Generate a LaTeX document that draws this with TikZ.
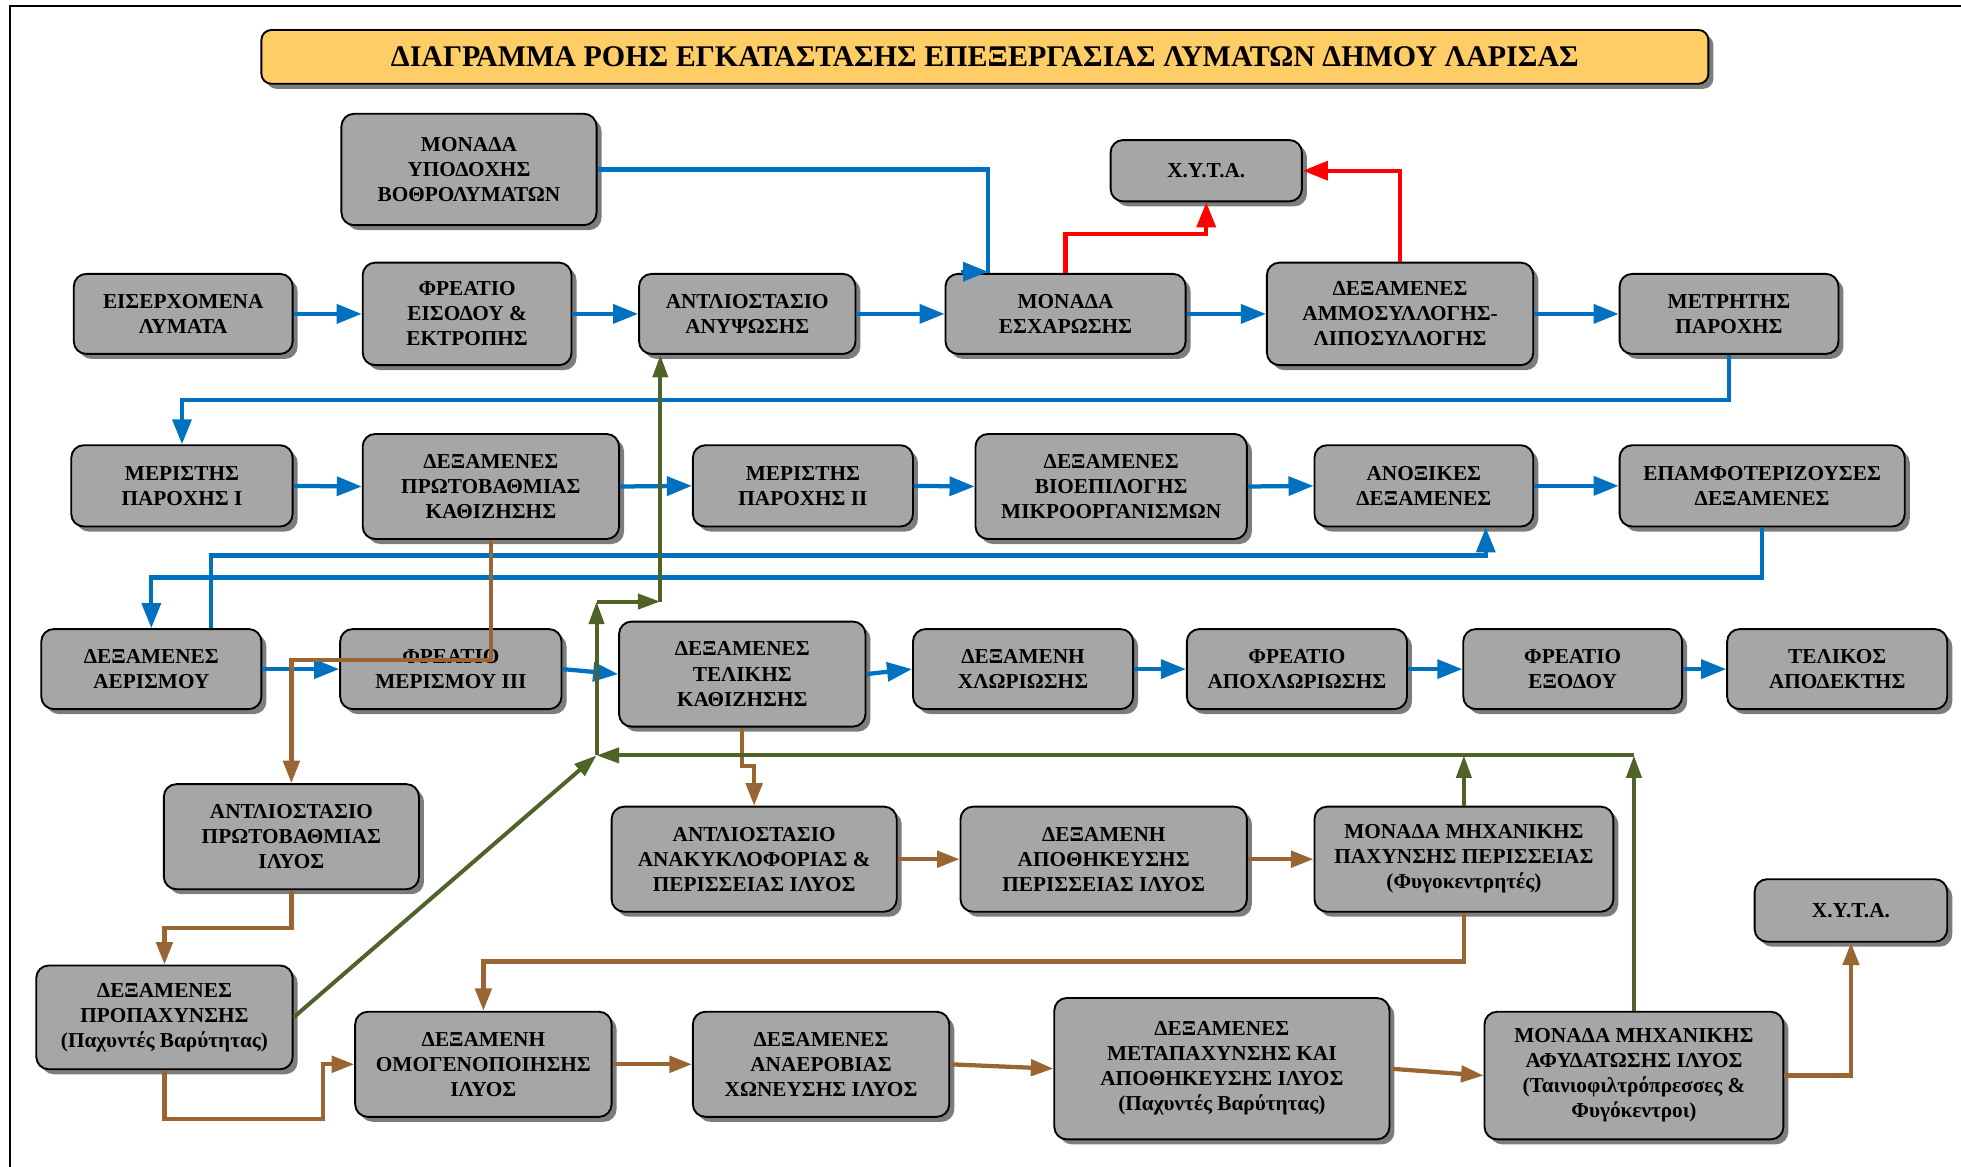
\documentclass[tikz,border=0pt]{standalone}
\usepackage{fontspec}
\setmainfont{Liberation Serif}
\usetikzlibrary{arrows.meta,shadows}
\definecolor{cblue}{RGB}{0,112,192}
\definecolor{cred}{RGB}{255,0,0}
\definecolor{cgreen}{RGB}{79,98,40}
\definecolor{cbrown}{RGB}{153,102,51}
\definecolor{boxgray}{RGB}{166,166,166}
\definecolor{shadowgray}{RGB}{125,125,125}
\definecolor{titleyellow}{RGB}{255,205,102}
\newcommand\bx[6]{\node[box, minimum width=#4pt, minimum height=#5pt] (#1) at (#2,#3) {#6};}
\begin{document}
\begin{tikzpicture}[x=1pt,y=-1pt,
  box/.style={draw=black, line width=1.5pt, fill=boxgray, rounded corners=10pt,
    align=center, inner sep=2pt, font=\fontsize{17}{20}\selectfont\bfseries,
    drop shadow={shadow xshift=4pt,shadow yshift=-4pt,fill=shadowgray,opacity=1}},
  titlebox/.style={draw=black, line width=1.5pt, fill=titleyellow, rounded corners=8pt,
    align=center, inner sep=2pt, font=\fontsize{24}{28}\selectfont\bfseries,
    drop shadow={shadow xshift=4pt,shadow yshift=-4pt,fill=shadowgray,opacity=1}},
  tipb/.style={-{Triangle[length=20pt,width=15pt]}},
  bl/.style={cblue, line width=3.4pt, tipb},
  bln/.style={cblue, line width=3.4pt},
  rd/.style={cred, line width=3.4pt, tipb},
  gr/.style={cgreen, line width=3.2pt, -{Triangle[length=18pt,width=12pt]}},
  br/.style={cbrown, line width=3.4pt, -{Triangle[length=18pt,width=13pt]}}
]
\useasboundingbox (0,0) rectangle (1568,933);
\draw[line width=1.5pt] (1568,5) -- (8,5) -- (8,933);

\node[titlebox, minimum width=1157pt, minimum height=43pt] (title) at (787.5,45.5)
  {ΔΙΑΓΡΑΜΜΑ ΡΟΗΣ ΕΓΚΑΤΑΣΤΑΣΗΣ ΕΠΕΞΕΡΓΑΣΙΑΣ ΛΥΜΑΤΩΝ ΔΗΜΟΥ ΛΑΡΙΣΑΣ};

\bx{vothro}{375}{135.5}{204}{89}{ΜΟΝΑΔΑ\\ΥΠΟΔΟΧΗΣ\\ΒΟΘΡΟΛΥΜΑΤΩΝ}
\bx{xyta1}{964.5}{136.5}{153}{49}{Χ.Υ.Τ.Α.}
\bx{eis}{146.5}{251}{175}{64}{ΕΙΣΕΡΧΟΜΕΝΑ\\ΛΥΜΑΤΑ}
\bx{freat}{373.5}{251}{167}{82}{ΦΡΕΑΤΙΟ\\ΕΙΣΟΔΟΥ \&\\ΕΚΤΡΟΠΗΣ}
\bx{antl}{597.5}{251}{173}{64}{ΑΝΤΛΙΟΣΤΑΣΙΟ\\ΑΝΥΨΩΣΗΣ}
\bx{esx}{852}{251}{192}{64}{ΜΟΝΑΔΑ\\ΕΣΧΑΡΩΣΗΣ}
\bx{ammo}{1119.5}{251}{213}{82}{ΔΕΞΑΜΕΝΕΣ\\ΑΜΜΟΣΥΛΛΟΓΗΣ-\\ΛΙΠΟΣΥΛΛΟΓΗΣ}
\bx{metr}{1382.5}{251}{175}{64}{ΜΕΤΡΗΤΗΣ\\ΠΑΡΟΧΗΣ}
\bx{mer1}{145.5}{388.5}{177}{65}{ΜΕΡΙΣΤΗΣ\\ΠΑΡΟΧΗΣ Ι}
\bx{prot}{392.5}{389}{205}{84}{ΔΕΞΑΜΕΝΕΣ\\ΠΡΩΤΟΒΑΘΜΙΑΣ\\ΚΑΘΙΖΗΣΗΣ}
\bx{mer2}{642}{388.5}{176}{65}{ΜΕΡΙΣΤΗΣ\\ΠΑΡΟΧΗΣ ΙΙ}
\bx{bio}{888.5}{389}{217}{84}{ΔΕΞΑΜΕΝΕΣ\\ΒΙΟΕΠΙΛΟΓΗΣ\\ΜΙΚΡΟΟΡΓΑΝΙΣΜΩΝ}
\bx{anox}{1138.5}{388.5}{175}{65}{ΑΝΟΞΙΚΕΣ\\ΔΕΞΑΜΕΝΕΣ}
\bx{epam}{1409}{388.5}{228}{65}{ΕΠΑΜΦΟΤΕΡΙΖΟΥΣΕΣ\\ΔΕΞΑΜΕΝΕΣ}
\bx{aer}{121}{535}{176}{64}{ΔΕΞΑΜΕΝΕΣ\\ΑΕΡΙΣΜΟΥ}
\bx{mer3}{360.5}{535}{177}{64}{ΦΡΕΑΤΙΟ\\ΜΕΡΙΣΜΟΥ ΙΙΙ}
\bx{tel}{593.5}{539}{197}{84}{ΔΕΞΑΜΕΝΕΣ\\ΤΕΛΙΚΗΣ\\ΚΑΘΙΖΗΣΗΣ}
\bx{xlor}{818}{535}{176}{64}{ΔΕΞΑΜΕΝΗ\\ΧΛΩΡΙΩΣΗΣ}
\bx{apox}{1037}{535}{176}{64}{ΦΡΕΑΤΙΟ\\ΑΠΟΧΛΩΡΙΩΣΗΣ}
\bx{exod}{1257.5}{535}{175}{64}{ΦΡΕΑΤΙΟ\\ΕΞΟΔΟΥ}
\bx{telik}{1469}{535}{176}{64}{ΤΕΛΙΚΟΣ\\ΑΠΟΔΕΚΤΗΣ}
\bx{antlil}{233}{669}{204}{84}{ΑΝΤΛΙΟΣΤΑΣΙΟ\\ΠΡΩΤΟΒΑΘΜΙΑΣ\\ΙΛΥΟΣ}
\bx{anak}{603}{687}{228}{84}{ΑΝΤΛΙΟΣΤΑΣΙΟ\\ΑΝΑΚΥΚΛΟΦΟΡΙΑΣ \&\\ΠΕΡΙΣΣΕΙΑΣ ΙΛΥΟΣ}
\bx{apoth}{882.5}{687}{229}{84}{ΔΕΞΑΜΕΝΗ\\ΑΠΟΘΗΚΕΥΣΗΣ\\ΠΕΡΙΣΣΕΙΑΣ ΙΛΥΟΣ}
\bx{pax}{1170.5}{687}{239}{84}{ΜΟΝΑΔΑ ΜΗΧΑΝΙΚΗΣ\\ΠΑΧΥΝΣΗΣ ΠΕΡΙΣΣΕΙΑΣ\\(Φυγοκεντρητές)}
\bx{xyta2}{1480}{728}{154}{50}{Χ.Υ.Τ.Α.}
\bx{propax}{131.5}{813.5}{205}{83}{ΔΕΞΑΜΕΝΕΣ\\ΠΡΟΠΑΧΥΝΣΗΣ\\(Παχυντές Βαρύτητας)}
\bx{omog}{386.5}{851}{205}{84}{ΔΕΞΑΜΕΝΗ\\ΟΜΟΓΕΝΟΠΟΙΗΣΗΣ\\ΙΛΥΟΣ}
\bx{anaer}{656.5}{851}{205}{84}{ΔΕΞΑΜΕΝΕΣ\\ΑΝΑΕΡΟΒΙΑΣ\\ΧΩΝΕΥΣΗΣ ΙΛΥΟΣ}
\bx{meta}{977}{854.5}{268}{113}{ΔΕΞΑΜΕΝΕΣ\\ΜΕΤΑΠΑΧΥΝΣΗΣ ΚΑΙ\\ΑΠΟΘΗΚΕΥΣΗΣ ΙΛΥΟΣ\\(Παχυντές Βαρύτητας)}
\bx{afyd}{1306.5}{860}{239}{102}{ΜΟΝΑΔΑ ΜΗΧΑΝΙΚΗΣ\\ΑΦΥΔΑΤΩΣΗΣ ΙΛΥΟΣ\\(Ταινιοφιλτρόπρεσσες \&\\Φυγόκεντροι)}

% blue flows
\draw[bl] (eis.east) -- (freat.west);
\draw[bl] (freat.east) -- (antl.west);
\draw[bl] (antl.east) -- (esx.west);
\draw[bl] (esx.east) -- (ammo.west);
\draw[bl] (ammo.east) -- (metr.west);
\draw[bln] (vothro.east) -| ([xshift=-62pt]esx.north);
\draw[bl] ([xshift=-84pt,yshift=1pt]esx.north) -- ([xshift=-62pt,yshift=1pt]esx.north);
\draw[bl] (metr.south) -- ++(0,36) -| (mer1.north);
\draw[bl] (mer1.east) -- (prot.west);
\draw[bl] (prot.east) -- (mer2.west);
\draw[bl] (mer2.east) -- (bio.west);
\draw[bl] (bio.east) -- (anox.west);
\draw[bl] (anox.east) -- (epam.west);
\draw[bl] (epam.south) -- ++(0,40) -| (aer.north);
\draw[bl] ([xshift=48pt]aer.north) -- ++(0,-58) -| ([xshift=49.5pt]anox.south);
\draw[bl] (aer.east) -- (mer3.west);
\draw[bl] (mer3.east) -- (tel.west);
\draw[bl] (tel.east) -- (xlor.west);
\draw[bl] (xlor.east) -- (apox.west);
\draw[bl] (apox.east) -- (exod.west);
\draw[bl] (exod.east) -- (telik.west);

% red flows
\draw[rd] (esx.north) -- ++(0,-31) -| (xyta1.south);
\draw[rd] (ammo.north) |- (xyta1.east);

% brown flows
\draw[br] (prot.south) -- ++(0,96) -| (antlil.north);
\draw[br] (antlil.south) -- ++(0,30) -| (propax.north);
\draw[br] (tel.south) -- ++(0,31) -| (anak.north);
\draw[br] (anak.east) -- (apoth.west);
\draw[br] (apoth.east) -- (pax.west);
\draw[br] (pax.south) -- ++(0,39) -| (omog.north);
\draw[br] (propax.south) -- ++(0,39) -| ([xshift=-25pt]omog.west) -- (omog.west);
\draw[br] (omog.east) -- (anaer.west);
\draw[br] (anaer.east) -- (meta.west);
\draw[br] (meta.east) -- (afyd.west);
\draw[br] (afyd.east) -| (xyta2.south);

% green flows
\coordinate (J) at (477,604);
\coordinate (K) at (477,481);
\coordinate (L) at (528,481);
\draw[gr] (propax.east) -- (J);
\draw[gr] (afyd.north) -- (afyd.north |- J);
\draw[gr] (afyd.north |- J) -- (J);
\draw[gr] (pax.north) -- (pax.north |- J);
\draw[gr] (J) -- (K);
\draw[gr] (K) -- (L);
\draw[gr] (L) -- (L |- antl.south);
\end{tikzpicture}
\end{document}
